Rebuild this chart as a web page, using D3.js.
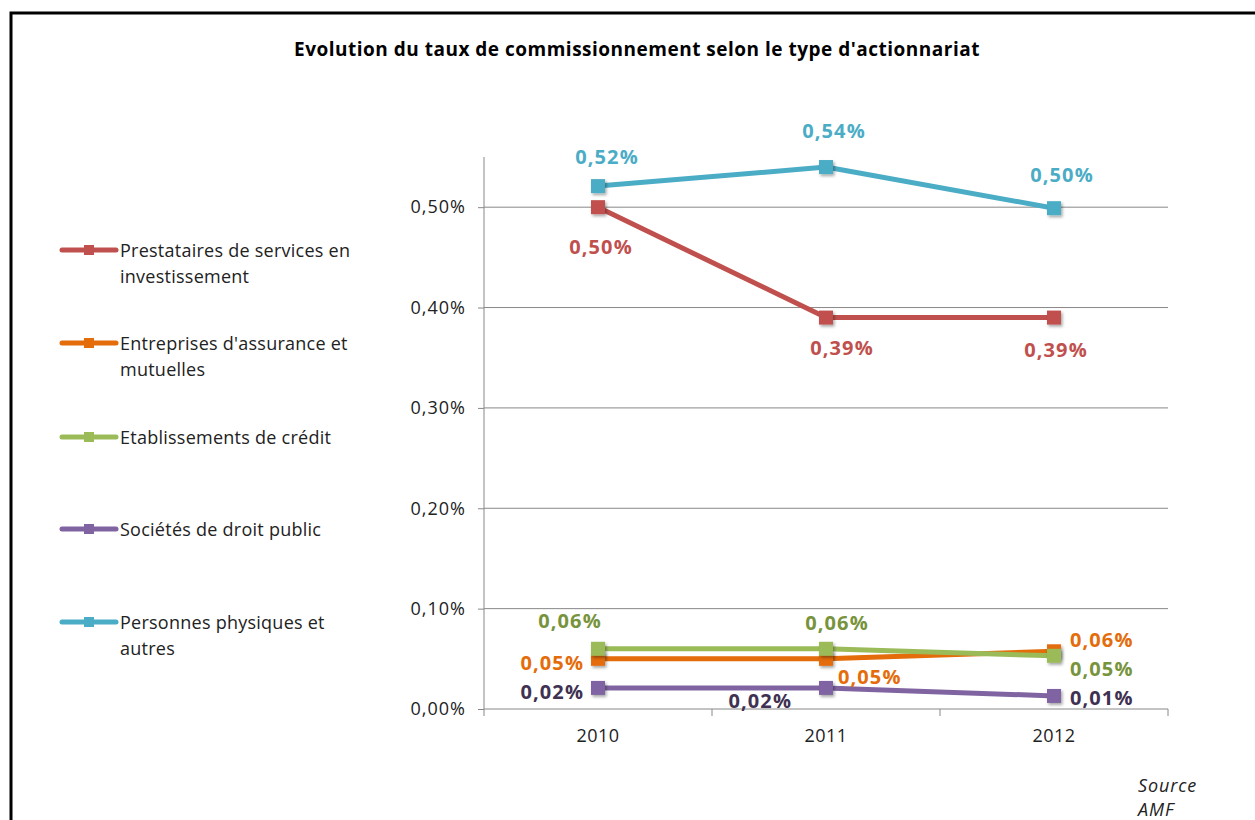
<!DOCTYPE html>
<html>
<head>
<meta charset="utf-8">
<script src="https://cdn.jsdelivr.net/npm/d3@7"></script>
<style>
  html, body { margin: 0; padding: 0; background: #fff; }
  svg { display: block; font-family: "Open Sans", Lato, sans-serif; }
</style>
</head>
<body>
<svg id="chart" width="1255" height="820"></svg>
<script>
// Commission rate by shareholder type, 2010-2012 (in %)
const years = ["2010", "2011", "2012"];
const seriesNames = [
  ["Prestataires de services en", "investissement"],
  ["Entreprises d'assurance et", "mutuelles"],
  ["Etablissements de crédit"],
  ["Sociétés de droit public"],
  ["Personnes physiques et", "autres"]
];
const prestataires = [0.50, 0.39, 0.39];
const assurance = [0.05, 0.05, 0.0575];
const credit = [0.06, 0.06, 0.053];
const droitPublic = [0.021, 0.021, 0.013];
const personnes = [0.521, 0.54, 0.499];
const yTicks = [0, 0.1, 0.2, 0.3, 0.4, 0.5];

// where each point's value label sits relative to its marker
const labelPlacement = [
  ["belowFar", "belowRight2", "below"],
  ["left", "belowRight", "rightUp"],
  ["aboveLeft", "aboveRight", "rightDown"],
  ["left", "belowLeft", "right"],
  ["above", "aboveFar", "aboveMid"]
];

const lineColors = ["#C0504D", "#E46C0A", "#9BBB59", "#8064A2", "#4BACC6"];
const labelColors = ["#C0504D", "#E46C0A", "#77933C", "#3F3151", "#4BACC6"];

const values = [prestataires, assurance, credit, droitPublic, personnes];
const series = seriesNames.map((name, i) => ({ name, values: values[i], color: lineColors[i], labelColor: labelColors[i], place: labelPlacement[i] }));

const svg = d3.select("#chart");

const defs = svg.append("defs");
const shadow = defs.append("filter").attr("id", "markerShadow").attr("x", "-50%").attr("y", "-50%").attr("width", "200%").attr("height", "200%");
shadow.append("feDropShadow").attr("dx", 1.5).attr("dy", 2).attr("stdDeviation", 1.5).attr("flood-color", "#000").attr("flood-opacity", 0.35);

// outer frame
svg.append("rect").attr("x", 11).attr("y", 13).attr("width", 1300).attr("height", 900)
  .attr("fill", "none").attr("stroke", "#000").attr("stroke-width", 3);

svg.append("text").attr("x", 637).attr("y", 56).attr("text-anchor", "middle")
  .attr("font-size", 19).attr("font-weight", "bold").attr("fill", "#000")
  .attr("letter-spacing", 0.5)
  .text("Evolution du taux de commissionnement selon le type d'actionnariat");

const plot = { left: 484, right: 1168, top: 157, bottom: 709 };

const x = d3.scaleBand().domain(years).range([plot.left, plot.right]);
const y = d3.scaleLinear().domain([0, 0.55]).range([plot.bottom, plot.top]);

// gridlines
svg.append("g").selectAll("line").data(yTicks.filter(t => t > 0)).join("line")
  .attr("x1", plot.left).attr("x2", plot.right)
  .attr("y1", d => y(d)).attr("y2", d => y(d))
  .attr("stroke", "#888").attr("stroke-width", 1);

// y axis
const fmtAxis = d => d3.format(".2f")(d).replace(".", ",") + "%";
const yAxis = svg.append("g").attr("transform", `translate(${plot.left},0)`)
  .call(d3.axisLeft(y).tickValues(yTicks).tickFormat(fmtAxis).tickSize(6).tickPadding(12));
yAxis.select(".domain").attr("stroke", "#888").attr("d", `M0,${plot.top}V${plot.bottom}`);
yAxis.selectAll(".tick line").attr("stroke", "#888");
yAxis.selectAll(".tick text").attr("font-size", 18).attr("letter-spacing", 1).attr("fill", "#222").attr("font-family", "'Open Sans', sans-serif");

// x axis with boundary ticks
const xAxis = svg.append("g").attr("transform", `translate(0,${plot.bottom})`)
  .call(d3.axisBottom(x).tickSize(0).tickPadding(20));
xAxis.select(".domain").attr("stroke", "#888").attr("d", `M${plot.left},0H${plot.right}`);
xAxis.selectAll(".tick text").attr("font-size", 18).attr("letter-spacing", 0.5).attr("fill", "#222").attr("font-family", "'Open Sans', sans-serif");
const boundaries = years.map(yr => x(yr)).concat([plot.right]);
xAxis.selectAll(".bound").data(boundaries).join("line").attr("class", "bound")
  .attr("x1", d => d).attr("x2", d => d).attr("y1", 0).attr("y2", 7).attr("stroke", "#888");

const cx = d => x(d) + x.bandwidth() / 2;
const line = d3.line().x(d => cx(d.year)).y(d => y(d.v));

const fmtLabel = v => d3.format(".2f")(v).replace(".", ",") + "%";
const offsets = {
  above: [9, -29, "middle"],
  aboveMid: [8, -33, "middle"],
  aboveFar: [8, -36, "middle"],
  aboveLeft: [-28, -28, "middle"],
  aboveRight: [11, -26, "middle"],
  below: [2, 32, "middle"],
  belowFar: [3, 40, "middle"],
  belowRight2: [16, 30, "middle"],
  left: [-14, 4, "end"],
  right: [16, 2, "start"],
  rightUp: [16, -11, "start"],
  rightDown: [16, 13, "start"],
  belowRight: [12, 18, "start"],
  belowLeft: [-34, 13, "end"]
};

series.forEach(s => {
  const pts = s.values.map((v, i) => ({ year: years[i], v, place: s.place[i] }));
  const g = svg.append("g");
  g.append("path").datum(pts).attr("d", line)
    .attr("fill", "none").attr("stroke", s.color).attr("stroke-width", 5).attr("stroke-linejoin", "round");
  g.selectAll("rect").data(pts).join("rect")
    .attr("x", d => cx(d.year) - 7).attr("y", d => y(d.v) - 7)
    .attr("width", 14).attr("height", 14).attr("fill", s.color)
    .attr("filter", "url(#markerShadow)");
  s.pts = pts;
});

// value labels on top of all lines
series.forEach(s => {
  svg.append("g").selectAll("text").data(s.pts).join("text")
    .attr("x", d => cx(d.year) + offsets[d.place][0])
    .attr("y", d => y(d.v) + offsets[d.place][1])
    .attr("dy", "0.35em")
    .attr("text-anchor", d => offsets[d.place][2])
    .attr("font-size", 20).attr("font-weight", "bold").attr("fill", s.labelColor)
    .attr("letter-spacing", 1.1)
    .text(d => fmtLabel(d.v));
});

// legend
const legendY = [250, 343, 437, 529, 622];
series.forEach((s, i) => {
  const g = svg.append("g").attr("transform", `translate(0,${legendY[i]})`);
  g.append("line").attr("x1", 62).attr("x2", 116).attr("y1", 0).attr("y2", 0)
    .attr("stroke", s.color).attr("stroke-width", 5).attr("stroke-linecap", "round");
  g.append("rect").attr("x", 84).attr("y", -5).attr("width", 10).attr("height", 10).attr("fill", s.color);
  s.name.forEach((ln, k) => {
    g.append("text").attr("x", 120).attr("y", k * 26 + 1).attr("dy", "0.35em")
      .attr("font-size", 18).attr("letter-spacing", 0.25).attr("fill", "#222").text(ln);
  });
});

// source note
svg.append("text").attr("x", 1138).attr("y", 792).attr("font-size", 18).attr("letter-spacing", 0.9).attr("font-style", "italic").attr("fill", "#222").text("Source");
svg.append("text").attr("x", 1138).attr("y", 816).attr("font-size", 18).attr("letter-spacing", 0.9).attr("font-style", "italic").attr("fill", "#222").text("AMF");
</script>
</body>
</html>
